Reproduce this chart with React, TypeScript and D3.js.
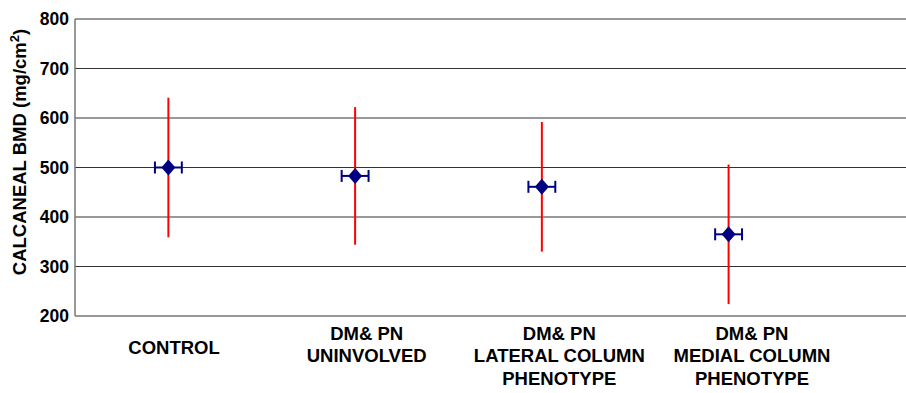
import React from "react";
import * as d3 from "d3";

const groups = [1, 2, 3, 4];
const labels = [
  ["CONTROL"],
  ["DM& PN", "UNINVOLVED"],
  ["DM& PN", "LATERAL COLUMN", "PHENOTYPE"],
  ["DM& PN", "MEDIAL COLUMN", "PHENOTYPE"],
];
const means = [500, 483, 461, 365];
const yErr = [141, 139, 131, 141];
const xErr = [0.072, 0.072, 0.072, 0.072];
const yTicks = [200, 300, 400, 500, 600, 700, 800];

const W = 906;
const H = 393;
const font = "'Liberation Sans', Arial, sans-serif";

export default function App() {
  const x = d3.scaleLinear().domain([0.5, 4.95]).range([75, 906]);
  const y = d3.scaleLinear().domain([200, 800]).range([316, 19]);
  const labelX = d3.scaleLinear().domain([1, 4]).range([174, 752]);

  const diamond = (cx: number, cy: number) => {
    const p = d3.path();
    p.moveTo(cx, cy - 8);
    p.lineTo(cx + 7, cy);
    p.lineTo(cx, cy + 8);
    p.lineTo(cx - 7, cy);
    p.closePath();
    return p.toString();
  };

  return (
    <svg
      width={W}
      height={H}
      style={{ position: "absolute", left: 0, top: 0, background: "#fff" }}
      fontFamily={font}
    >
      {/* grid */}
      {yTicks.map((t) => (
        <g key={t}>
          <line x1={75} x2={W} y1={y(t)} y2={y(t)} stroke="#333" strokeWidth={1} />
          <text
            x={69}
            y={y(t)}
            dy="0.36em"
            textAnchor="end"
            fontSize={17.5}
            fontWeight="bold"
          >
            {t}
          </text>
        </g>
      ))}
      <line x1={75} x2={75} y1={y(800)} y2={y(200)} stroke="#777" strokeWidth={1.5} />

      {/* y axis title */}
      <text
        transform={`translate(26,${152}) rotate(-90)`}
        textAnchor="middle"
        fontSize={18.5}
        fontWeight="bold"
      >
        CALCANEAL BMD (mg/cm
        <tspan dy={-7} fontSize={13}>2</tspan>
        <tspan dy={7}>)</tspan>
      </text>

      {/* error bars and points */}
      {groups.map((g, i) => {
        const cx = x(g);
        const cy = y(means[i]);
        const x0 = x(g - xErr[i]);
        const x1 = x(g + xErr[i]);
        return (
          <g key={g}>
            <line
              x1={cx}
              x2={cx}
              y1={y(means[i] + yErr[i])}
              y2={y(means[i] - yErr[i])}
              stroke="#ff0000"
              strokeWidth={2}
            />
            <g stroke="#000080" strokeWidth={2}>
              <line x1={x0} x2={x1} y1={cy} y2={cy} />
              <line x1={x0} x2={x0} y1={cy - 6} y2={cy + 6} />
              <line x1={x1} x2={x1} y1={cy - 6} y2={cy + 6} />
            </g>
            <path d={diamond(cx, cy)} fill="#000080" />
          </g>
        );
      })}

      {/* category labels */}
      {labels.map((lines, i) => (
        <text
          key={i}
          x={labelX(groups[i])}
          textAnchor="middle"
          fontSize={18.5}
          fontWeight="bold"
        >
          {lines.map((l, j) => (
            <tspan
              key={j}
              x={labelX(groups[i])}
              y={(lines.length === 1 ? 347 : 333 + j * 22.5) + 6.5}
            >
              {l}
            </tspan>
          ))}
        </text>
      ))}
    </svg>
  );
}
